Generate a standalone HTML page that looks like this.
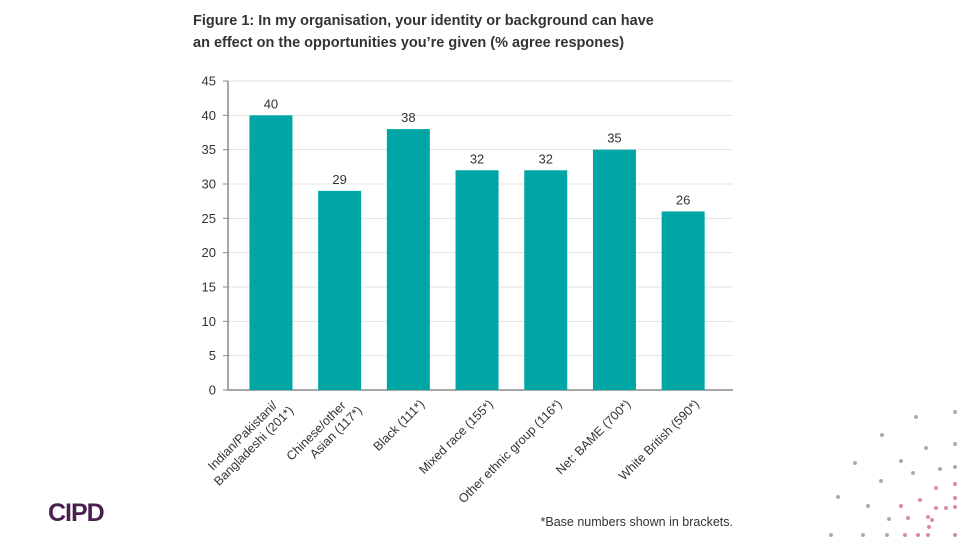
<!DOCTYPE html>
<html><head><meta charset="utf-8"><style>
html,body{margin:0;padding:0;background:#fff;width:960px;height:540px;overflow:hidden}
svg{display:block;font-family:"Liberation Sans",sans-serif}
</style></head><body>
<svg id="c" width="960" height="540" viewBox="0 0 960 540">
<text x="193" y="25" font-size="14.5" font-weight="bold" fill="#333">Figure 1: In my organisation, your identity or background can have</text>
<text x="193" y="47" font-size="14.5" font-weight="bold" fill="#333">an effect on the opportunities you’re given (% agree respones)</text>
<g id="grid"></g><g id="bars"></g><g id="labels"></g>
<text x="733" y="526" font-size="12.5" text-anchor="end" fill="#333">*Base numbers shown in brackets.</text>
<text x="48" y="521" font-size="25" font-weight="bold" fill="#4a1f4f" letter-spacing="-1">CIPD</text>
<g id="dots"></g>
</svg>
<script>
const categories=[["Indian/Pakistani/","Bangladeshi (201*)"],["Chinese/other","Asian (117*)"],["Black (111*)"],["Mixed race (155*)"],["Other ethnic group (116*)"],["Net: BAME (700*)"],["White British (590*)"]];
const values=[40,29,38,32,32,35,26];
const yTicks=[0,5,10,15,20,25,30,35,40,45];
const NS="http://www.w3.org/2000/svg";
const x0=228,x1=733,yBase=390,yTop=81,maxV=45;
const bandStart=236.6,step=68.7;
const y=v=>yBase-(v/maxV)*(yBase-yTop);
const cx=i=>bandStart+step*(i+0.5);
function mk(t,a,p,txt){const e=document.createElementNS(NS,t);for(const k in a)e.setAttribute(k,a[k]);if(txt!==undefined)e.textContent=txt;p.appendChild(e);return e;}
const G=document.getElementById('grid'),B=document.getElementById('bars'),L=document.getElementById('labels');
yTicks.forEach(t=>{
 const l=mk('line',{x1:x0,x2:x1,y1:y(t),y2:y(t),stroke:t===0?'#888':'#e3e3e3','stroke-width':t===0?1.5:1},G);
 
 
 const tk=mk('line',{x1:x0-5,x2:x0,y1:y(t),y2:y(t),stroke:'#888'},G);
 
 
 const tx=mk('text',{x:x0-12,y:y(t)+4.5,'font-size':13,'text-anchor':'end',fill:'#333'},G,String(t));
 
 
});
const ax=mk('line',{x1:x0,x2:x0,y1:yTop,y2:yBase,stroke:'#888','stroke-width':1.5},G);


const bw=43;
values.forEach((v,i)=>{
 const r=mk('rect',{x:cx(i)-bw/2,y:y(v),width:bw,height:yBase-y(v),fill:'#00a6a6'},B);
 
 
 const t=mk('text',{x:cx(i),y:y(v)-7,'font-size':13,'text-anchor':'middle',fill:'#333'},B,String(v));
 
 
 const lines=categories[i];
 const g=mk('text',{'font-size':12.5,'text-anchor':'end',fill:'#333',transform:`translate(${cx(i)+14},${yBase+12}) rotate(-45)`},L);
 
 
 lines.forEach((s,j)=>{mk('tspan',{x:lines.length>1&&j===0?-8:0,dy:j===0?(lines.length>1?-2:4):15},g,s);});
});
const dots=[[916,417],[882,435],[955,412],[926,448],[955,444],[855,463],[901,461],[940,469],[955,467],[881,481],[913,473],[936,488],[955,484],[838,497],[920,500],[936,508],[955,498],[868,506],[901,506],[928,517],[946,508],[955,507],[889,519],[908,518],[932,520],[929,527],[831,535],[863,535],[887,535],[905,535],[918,535],[928,535],[955,535]];
const D=document.getElementById('dots');
dots.forEach(([a,b])=>{const c=mk('circle',{cx:a,cy:b,r:2,fill:b>480&&a>890?'#d98aa5':'#b0a8b8'},D);});
</script>
</body></html>
